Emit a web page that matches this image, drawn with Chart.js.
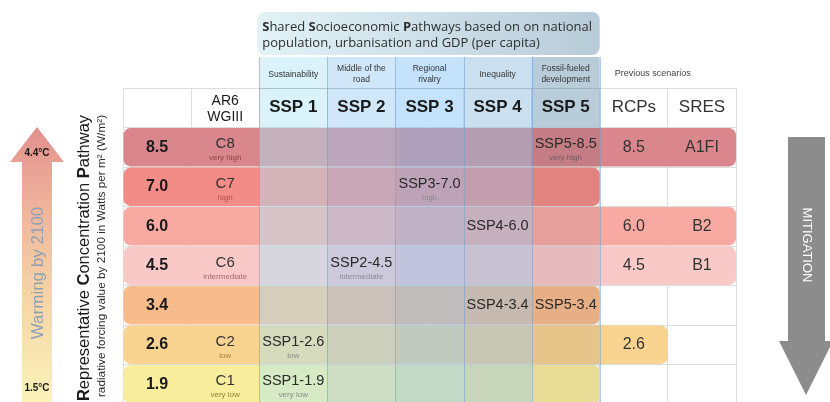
<!DOCTYPE html>
<html>
<head>
<meta charset="utf-8">
<script src="https://cdn.jsdelivr.net/npm/chart.js@4.4.0/dist/chart.umd.min.js"></script>
<style>
html,body{margin:0;padding:0;background:#fff;}
#wrap{width:830px;height:402px;overflow:hidden;position:relative;}
</style>
</head>
<body>
<div id="wrap"><canvas id="chart_canvas" width="830" height="412"></canvas></div>
<script>
// data of the table
const rcpValues = ['8.5','7.0','6.0','4.5','3.4','2.6','1.9']
const columnHeads = ['', 'AR6|WGIII', 'SSP 1', 'SSP 2', 'SSP 3', 'SSP 4', 'SSP 5', 'RCPs', 'SRES']
const sspThemes = ['Sustainability', 'Middle of the|road', 'Regional|rivalry', 'Inequality', 'Fossil-fueled|development']
const bandEnds = [9, 7, 9, 9, 7, 8, 7]
const ar6Classes = ['C8','C7','','C6','','C2','C1']
const ar6Levels = ['very high','high','','intermediate','','low','very low']
const sspScenarios = ['SSP5-8.5','SSP3-7.0','SSP4-6.0','SSP2-4.5','SSP4-3.4','SSP5-3.4','SSP1-2.6','SSP1-1.9']
const sspLevels = ['very high','high','','intermediate','','','low','very low']
const previousRcps = ['8.5','','6.0','4.5','','2.6','']
const sresScenarios = ['A1FI','','B2','B1','','','']

// styles
const rowColors = ['#d9878c','#f38b86','#f8aaa2','#f9c9c8','#f8bb8b','#f9d490','#f9ee9e']
const levelColors = ['#8a4244','#b4504b','','#a46a6a','','#a58236','#8c8436']
const sspFill = ['rgba(173,229,247,0.45)','rgba(151,202,244,0.45)','rgba(124,191,247,0.45)','rgba(138,184,222,0.45)']
const F = '"Liberation Sans", Arial, sans-serif'

const yLabels = ['head', ...rcpValues]

function drawSegments(ctx, segs, size, family, cx, cy){
    let total = 0
    segs.forEach(s=>{
        ctx.font = (s[1] ? 'bold ' : '') + size + 'px ' + family
        total += ctx.measureText(s[0]).width
    })
    let x = cx - total/2
    ctx.textAlign = 'left'
    segs.forEach(s=>{
        ctx.font = (s[1] ? 'bold ' : '') + size + 'px ' + family
        ctx.fillText(s[0], x, cy)
        x += ctx.measureText(s[0]).width
    })
}

const overlayPlugin = {
    id:'overlay',
    afterDatasetsDraw(chart){
        const {ctx, chartArea, scales:{x}} = chart
        const bandH = (chartArea.bottom - chartArea.top) / yLabels.length
        const top = chartArea.top - 31
        ctx.save()
        // SSP columns
        for(let i = 0; i < 5; i++){
            const l = x.getPixelForValue(i + 2), r = x.getPixelForValue(i + 3)
            if(i < 4){
                ctx.fillStyle = sspFill[i]
                ctx.fillRect(l, top, r - l, chartArea.bottom - top)
            } else {
                ctx.fillStyle = 'rgba(89,133,164,0.42)'
                ctx.fillRect(l, top, r - l, chartArea.top + bandH - top)
                ctx.fillStyle = 'rgba(60,60,80,0.12)'
                ctx.fillRect(l, chartArea.top + bandH, r - l, bandH)
                ctx.fillStyle = 'rgba(60,60,80,0.09)'
                ctx.fillRect(l, chartArea.top + 2 * bandH, r - l, chartArea.bottom - chartArea.top - 2 * bandH)
            }
        }
        // column dividers
        ctx.strokeStyle = 'rgba(110,160,215,0.55)'
        ctx.lineWidth = 1
        for(let i = 2; i <= 7; i++){
            const px = Math.round(x.getPixelForValue(i)) + 0.5
            ctx.beginPath(); ctx.moveTo(px, top); ctx.lineTo(px, chartArea.bottom); ctx.stroke()
        }
        ctx.strokeStyle = 'rgba(150,175,195,0.6)'
        ctx.beginPath(); ctx.moveTo(x.getPixelForValue(2), chartArea.top + 0.5); ctx.lineTo(x.getPixelForValue(7), chartArea.top + 0.5); ctx.stroke()
        ctx.restore()
    },
    afterDraw(chart){
        const {ctx, chartArea, scales:{x, y}} = chart
        const cx = i => x.getPixelForValue(i + 0.5)
        ctx.save()
        ctx.textBaseline = 'middle'
        ctx.textAlign = 'center'

        // title box
        const bx = x.getPixelForValue(2) - 2, bw = x.getPixelForValue(7) - bx
        const g = ctx.createLinearGradient(bx, 0, bx + bw, 0)
        g.addColorStop(0, '#e2f3f7')
        g.addColorStop(1, '#b8cbd8')
        ctx.fillStyle = g
        ctx.beginPath(); ctx.roundRect(bx, 12, bw, 43, 8); ctx.fill()
        ctx.fillStyle = '#2e2e2e'
        ctx.textAlign = 'left'
        const t1 = [['S',1],['hared ',0],['S',1],['ocioeconomic ',0],['P',1],['athways based on on national',0]]
        let tx = bx + 5
        t1.forEach(s=>{
            ctx.font = (s[1] ? 'bold ' : '') + '13px "Open Sans", sans-serif'
            ctx.fillText(s[0], tx, 27); tx += ctx.measureText(s[0]).width
        })
        ctx.font = '13px "Open Sans", sans-serif'
        ctx.fillText('population, urbanisation and GDP (per capita)', bx + 5, 43)
        ctx.textAlign = 'center'

        // SSP themes
        ctx.fillStyle = '#333'
        ctx.font = '8.5px ' + F
        sspThemes.forEach((t, i)=>{
            const lines = t.split('|')
            lines.forEach((ln, k)=>{
                ctx.fillText(ln, cx(i + 2), lines.length === 1 ? 75 : 69 + k * 11)
            })
        })
        ctx.textAlign = 'left'
        ctx.font = '9px ' + F
        ctx.fillStyle = '#444'
        ctx.fillText('Previous scenarios', x.getPixelForValue(7) + 15, 74)
        ctx.textAlign = 'center'

        // header row
        const hy = y.getPixelForValue(0)
        columnHeads.forEach((h, i)=>{
            if(!h) return
            ctx.fillStyle = '#1a1a1a'
            if(h.includes('|')){
                ctx.font = '14px ' + F
                const p = h.split('|')
                ctx.fillText(p[0], cx(i), hy - 7)
                ctx.fillText(p[1], cx(i), hy + 9)
            } else if(h.startsWith('SSP')){
                ctx.font = 'bold 17px ' + F
                ctx.fillText(h, cx(i), hy)
            } else {
                ctx.font = '17px ' + F
                ctx.fillStyle = '#333'
                ctx.fillText(h, cx(i), hy)
            }
        })

        // rows
        rcpValues.forEach((v, r)=>{
            const ry = y.getPixelForValue(r + 1)
            ctx.fillStyle = '#1a1a1a'
            ctx.font = 'bold 16px ' + F
            ctx.fillText(v, cx(0), ry)
            if(ar6Classes[r]){
                ctx.fillStyle = '#333'
                ctx.font = '15px ' + F
                ctx.fillText(ar6Classes[r], cx(1), ry - 3)
                ctx.fillStyle = levelColors[r]
                ctx.font = '8px ' + F
                ctx.fillText(ar6Levels[r], cx(1), ry + 11)
            }
            ctx.fillStyle = '#333'
            ctx.font = '16px ' + F
            if(previousRcps[r]) ctx.fillText(previousRcps[r], cx(7), ry)
            if(sresScenarios[r]) ctx.fillText(sresScenarios[r], cx(8), ry)
        })
        sspScenarios.forEach((s, k)=>{
            const col = Number(s.charAt(3)) + 1
            const r = rcpValues.indexOf(s.split('-')[1])
            const ry = y.getPixelForValue(r + 1)
            ctx.fillStyle = '#2a2a2a'
            ctx.font = '14.5px ' + F
            ctx.fillText(s, cx(col), sspLevels[k] ? ry - 3 : ry)
            if(sspLevels[k]){
                ctx.fillStyle = r === 0 ? '#6e5a62' : '#8a8a8a'
                ctx.font = '8px ' + F
                ctx.fillText(sspLevels[k], cx(col), ry + 11)
            }
        })

        // warming arrow
        const wg = ctx.createLinearGradient(0, 127, 0, 402)
        wg.addColorStop(0, '#e3908d')
        wg.addColorStop(0.3, '#efb49c')
        wg.addColorStop(0.6, '#f5d3a6')
        wg.addColorStop(1, '#fbf3b9')
        ctx.fillStyle = wg
        ctx.beginPath()
        ctx.moveTo(37, 127); ctx.lineTo(64, 162); ctx.lineTo(52, 162); ctx.lineTo(52, 412)
        ctx.lineTo(22, 412); ctx.lineTo(22, 162); ctx.lineTo(10, 162); ctx.closePath(); ctx.fill()
        ctx.fillStyle = '#1a1a1a'
        ctx.font = 'bold 10px ' + F
        ctx.fillText('4.4°C', 37, 153)
        ctx.fillText('1.5°C', 37, 388)
        ctx.save()
        ctx.translate(38, 273); ctx.rotate(-Math.PI/2)
        ctx.fillStyle = '#8d9fb6'
        ctx.font = '17px ' + F
        ctx.fillText('Warming by 2100', 0, 0)
        ctx.restore()

        // left axis titles
        ctx.save()
        ctx.translate(84, 258); ctx.rotate(-Math.PI/2)
        ctx.fillStyle = '#1a1a1a'
        drawSegments(ctx, [['R',1],['epresentative ',0],['C',1],['oncentration ',0],['P',1],['athway',0]], 16.5, F, 0, 0)
        ctx.restore()
        ctx.save()
        ctx.translate(102, 256); ctx.rotate(-Math.PI/2)
        ctx.fillStyle = '#2a2a2a'
        ctx.textAlign = 'center'
        ctx.font = '11.8px ' + F
        ctx.fillText('radiative forcing value by 2100 in Watts per m² (W/m²)', 0, 0)
        ctx.restore()

        // mitigation arrow
        ctx.fillStyle = '#8c8c8c'
        ctx.beginPath()
        ctx.moveTo(788, 137); ctx.lineTo(825, 137); ctx.lineTo(825, 341); ctx.lineTo(833, 341)
        ctx.lineTo(806, 395); ctx.lineTo(779, 341); ctx.lineTo(788, 341); ctx.closePath(); ctx.fill()
        ctx.save()
        ctx.translate(807, 245); ctx.rotate(Math.PI/2)
        ctx.fillStyle = '#ffffff'
        ctx.font = '13px ' + F
        ctx.fillText('MITIGATION', 0, 0)
        ctx.restore()

        ctx.restore()
    }
}

const config = {
    type:'bar',
    data:{
        labels:yLabels,
        datasets:[{
            data:[null, ...bandEnds.map(e=>[0, e])],
            backgroundColor:['rgba(0,0,0,0)', ...rowColors],
            borderRadius:7,
            borderSkipped:false,
            barPercentage:1,
            categoryPercentage:0.97
        }]
    },
    options:{
        indexAxis:'y',
        responsive:false,
        animation:false,
        layout:{padding:{left:123, right:94, top:88, bottom:8}},
        scales:{
            x:{type:'linear', min:0, max:9, ticks:{display:false, stepSize:1}, grid:{color:'#dddddd', drawTicks:false}, border:{display:false}},
            y:{type:'category', ticks:{display:false}, grid:{color:'#dddddd', drawTicks:false, offset:true}, border:{display:false}}
        },
        plugins:{legend:{display:false}, tooltip:{enabled:false}}
    },
    plugins:[overlayPlugin]
}

new Chart(document.getElementById('chart_canvas').getContext('2d'), config)
</script>
</body>
</html>
